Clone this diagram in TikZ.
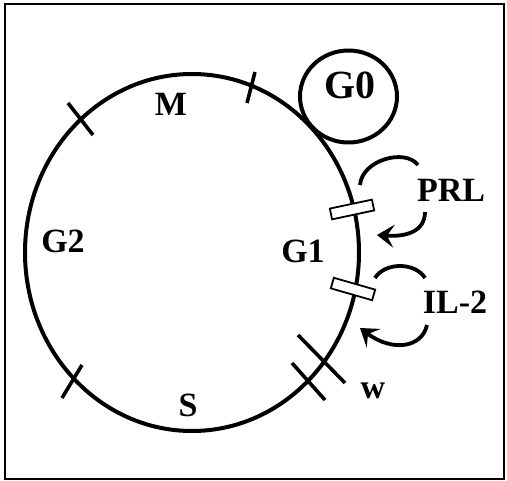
\documentclass[tikz,border=0pt]{standalone}
\usepackage{fontspec}
\setmainfont{Liberation Serif}
\usetikzlibrary{arrows.meta}
\begin{document}
\begin{tikzpicture}[x=1pt,y=-1pt,
  lbl/.style={font=\fontsize{34}{38}\selectfont\bfseries, inner sep=0pt},
  big/.style={font=\fontsize{40}{44}\selectfont\bfseries, inner sep=0pt},
  small/.style={font=\fontsize{34}{36}\selectfont\bfseries, inner sep=0pt},
  cyc/.style={line width=4pt},
  tick/.style={line width=3.6pt},
  rcpt/.style={draw, fill=white, line width=1.8pt, minimum width=43pt, minimum height=11pt, inner sep=0pt},
  sig/.style={line width=3.8pt},
  sigarrow/.style={line width=3.8pt, -{Stealth[length=17pt,width=23pt,inset=7pt]}}]
\useasboundingbox (0,0) rectangle (507,481);
\draw[line width=1.6pt] (5,4) rectangle (504,479);
% cell cycle
\draw[cyc] (192,252.5) ellipse [x radius=167, y radius=178.5];
% G0
\draw[cyc] (348.5,96.5) ellipse [x radius=48.5, y radius=46];
% ticks
\draw[tick] (68,103) -- (93,135);
\draw[tick] (255,72) -- (247,103);
\draw[tick] (82,365) -- (62,398);
\draw[tick] (298,335) -- (345,383);
\draw[tick] (292,363) -- (325,400);
% receptors
\node[rcpt, rotate=12] (r1) at (352,209.5) {};
\node[rcpt, rotate=-16] (r2) at (353,289) {};
% signal arcs
\draw[sig] (360,185) .. controls (362,160) and (405,148) .. (418,165);
\draw[sigarrow] (425,212) .. controls (425,232) and (405,237) .. (377,235);
\draw[sig] (375,278) .. controls (385,262) and (415,262) .. (425,278);
\draw[sigarrow] (427,325) .. controls (422,348) and (392,352) .. (360,328);
% labels
\node[big] (g0) at (350,85) {G0};
\node[lbl] (m) at (171,104) {M};
\node[lbl] (g2) at (63,241) {G2};
\node[lbl] (g1) at (303,251) {G1};
\node[lbl] (s) at (188,405) {S};
\node[small] (w) at (373,391) {w};
\node[lbl] (prl) at (451,190) {PRL};
\node[lbl] (il2) at (455,302.5) {IL-2};
\end{tikzpicture}
\end{document}
